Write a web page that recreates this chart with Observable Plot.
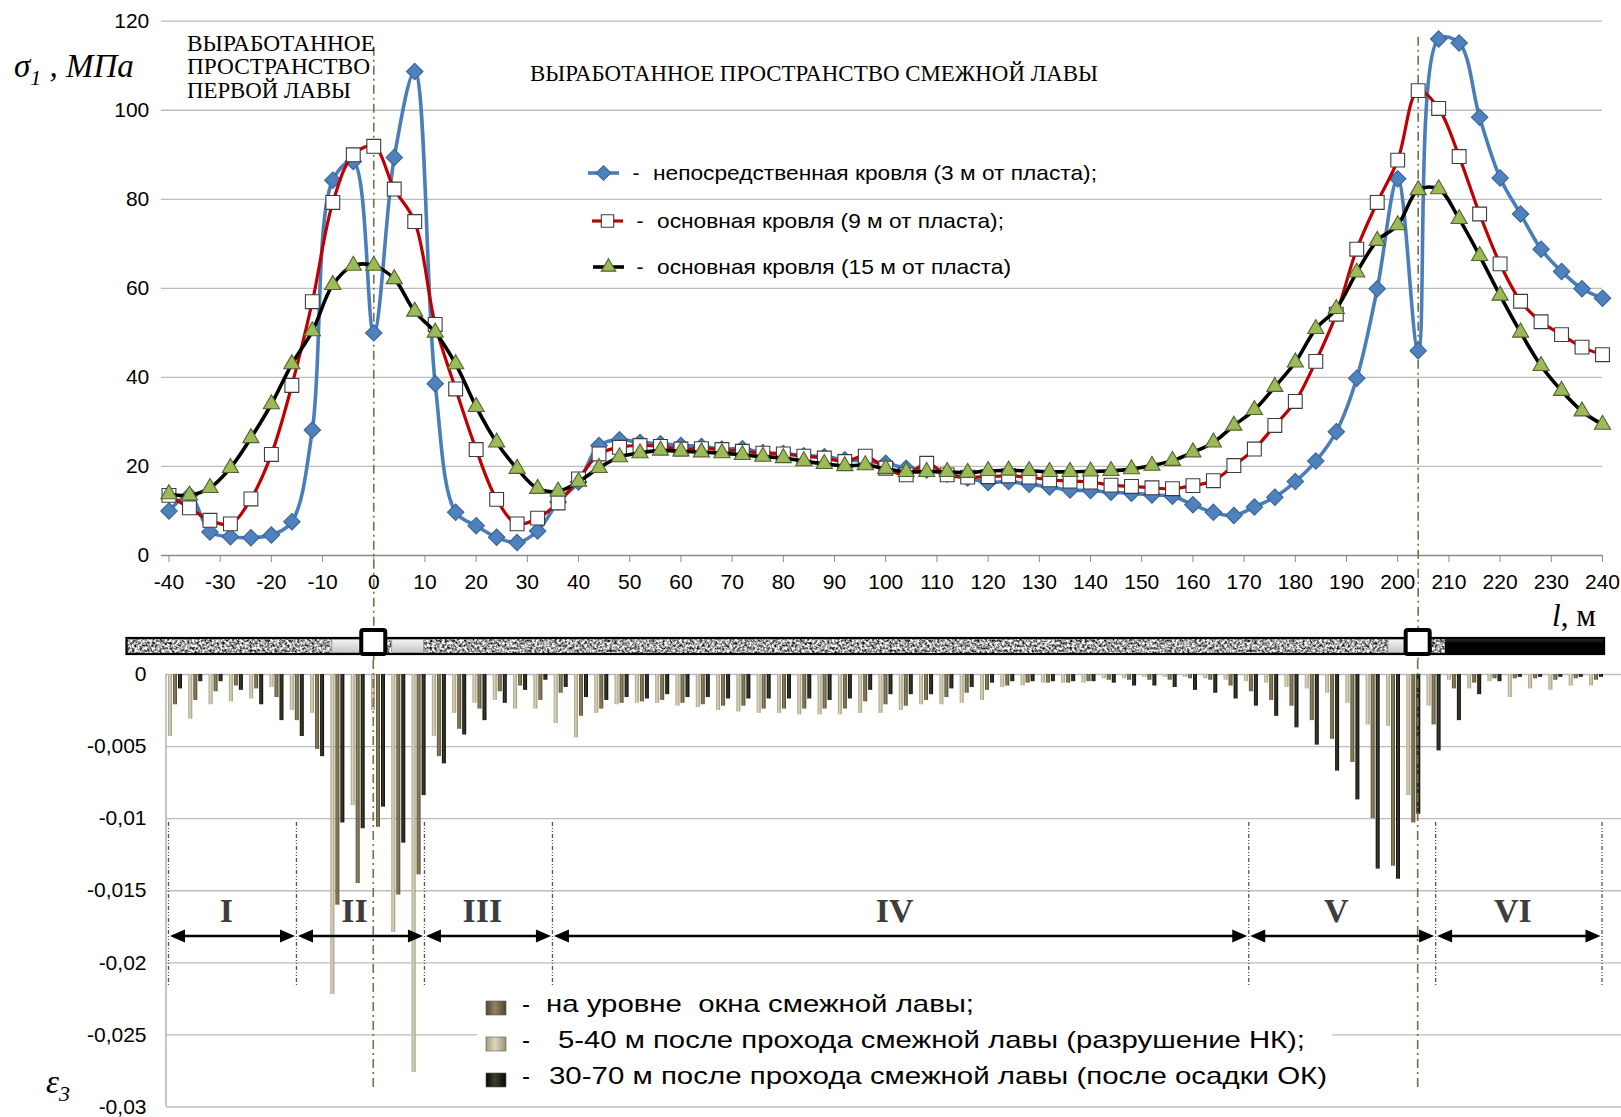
<!DOCTYPE html>
<html lang="ru">
<head>
<meta charset="utf-8">
<script src="https://cdn.jsdelivr.net/npm/d3@7"></script>
<script src="https://cdn.jsdelivr.net/npm/@observablehq/plot@0.6"></script>
<style>
  html, body { margin: 0; padding: 0; background: #fff; }
  #root { position: relative; width: 1621px; height: 1117px; overflow: hidden; background: #fff; }
  #topChart, #bottomChart { position: absolute; left: 0; }
  #topChart { top: 0; }
  #bottomChart { top: 660px; }
  svg { overflow: visible; }
</style>
</head>
<body>
<svg width="0" height="0" style="position:absolute">
  <defs>
    <linearGradient id="gNK" x1="0" x2="1" y1="0" y2="0">
      <stop offset="0" stop-color="#a39d80"/>
      <stop offset="0.45" stop-color="#dcd7bf"/>
      <stop offset="1" stop-color="#9a9477"/>
    </linearGradient>
    <linearGradient id="gWin" x1="0" x2="1" y1="0" y2="0">
      <stop offset="0" stop-color="#524a2f"/>
      <stop offset="0.45" stop-color="#8e8464"/>
      <stop offset="1" stop-color="#4e472d"/>
    </linearGradient>
    <linearGradient id="gOK" x1="0" x2="1" y1="0" y2="0">
      <stop offset="0" stop-color="#0a0a05"/>
      <stop offset="0.45" stop-color="#3d3c2e"/>
      <stop offset="1" stop-color="#080804"/>
    </linearGradient>
    <linearGradient id="gCoal" x1="0" x2="0" y1="0" y2="1">
      <stop offset="0" stop-color="#444"/>
      <stop offset="0.35" stop-color="#000"/>
      <stop offset="1" stop-color="#000"/>
    </linearGradient>
    <linearGradient id="gPillar" x1="0" x2="0" y1="0" y2="1">
      <stop offset="0" stop-color="#f2f2f2"/>
      <stop offset="1" stop-color="#c8c8c8"/>
    </linearGradient>
    <filter id="granite" x="0" y="0" width="1" height="1" color-interpolation-filters="sRGB">
      <feTurbulence type="fractalNoise" baseFrequency="0.4" numOctaves="3" seed="7" result="noise"/>
      <feColorMatrix in="noise" type="matrix" values="2.0 0 0 0 -0.36  2.0 0 0 0 -0.36  2.0 0 0 0 -0.36  0 0 0 0 1" result="gray"/>
      <feComposite in="gray" in2="SourceGraphic" operator="in"/>
    </filter>
  </defs>
</svg>
<div id="root">
  <div id="topChart"></div>
  <div id="bottomChart"></div>
</div>
<script>
// ---------------- DATA ----------------
const distances = [-40,-36,-32,-28,-24,-20,-16,-12,-8,-4,0,4,8,12,16,20,24,28,32,36,40,
  44,48,52,56,60,64,68,72,76,80,84,88,92,96,100,104,108,112,116,120,
  124,128,132,136,140,144,148,152,156,160,164,168,172,176,180,184,188,192,196,200,
  204,208,212,216,220,224,228,232,236,240];

// σ1, MPa
const roof3 = [10,13.5,5.3,4.2,4.0,4.6,7.6,28.2,84.3,88.5,50,89.4,108.7,38.6,9.7,6.7,4.1,2.9,5.5,12,16.5,
  24.7,26,25.4,25.1,24.7,24.5,23.9,24,23.1,22.9,22.4,22.2,21.5,21.2,20.7,19.6,19.2,18.3,17.4,16.4,
  16.6,16,15.4,14.7,14.6,14.2,14,13.6,13.3,11.4,9.7,9,10.9,13.1,16.6,21.2,27.8,39.8,59.9,84.6,
  46,116,115.1,98.4,84.8,76.7,68.8,63.8,59.9,57.8];
const roof9 = [13.5,10.7,7.9,7.1,12.7,22.7,38.2,57.0,79.3,90,91.9,82.3,75,51.9,37.4,23.8,12.6,7.1,8.4,11.8,17.2,
  22.8,24.3,24.7,24.5,23.9,24.0,23.8,23.4,23.0,22.8,22.3,21.9,21.1,22.3,19.6,18.1,20.7,18.1,17.6,17.7,
  17.9,17.6,17.0,16.7,16.5,15.8,15.5,15.2,15.0,15.7,16.8,20.2,23.9,29.2,34.6,43.6,54.2,68.8,79.3,88.8,
  104.4,100.4,89.6,76.7,65.5,57.1,52.5,49.6,46.8,45.1];
const roof15 = [13.8,13.5,15.2,19.7,26.4,34.0,43.0,50.4,60.8,65.1,65.1,62.1,54.8,50.1,43.0,33.4,25.4,19.5,15.0,14.4,16.6,
  19.7,22.1,23.0,23.6,23.4,23.2,23.0,22.6,22.2,21.9,21.2,20.6,20.1,20.3,19.5,18.8,18.8,18.8,18.6,19.0,
  19.1,19.0,18.8,18.8,18.9,19.0,19.4,20.2,21.3,23.2,25.4,29.2,32.7,37.9,43.4,50.9,55.4,63.6,70.7,74.2,
  82.1,82.3,75.6,67.3,58.4,50.1,42.6,37.0,32.4,29.4];

// ε3
const strainWindow = [-0.0021,-0.0018,-0.0012,-0.0008,-0.0010,-0.0016,-0.0032,-0.0052,-0.0160,-0.0145,-0.0106,-0.0153,-0.0139,-0.0057,-0.0038,-0.0024,-0.0012,-0.0008,-0.0018,-0.0013,-0.0029,
  -0.0024,-0.0020,-0.0019,-0.0018,-0.0020,-0.0021,-0.0022,-0.0022,-0.0024,-0.0024,-0.0024,-0.0024,-0.0024,-0.0019,-0.0021,-0.0022,-0.0018,-0.0016,-0.0013,-0.0011,
  -0.0008,-0.0006,-0.0006,-0.0006,-0.0005,-0.0004,-0.0004,-0.0004,-0.0004,-0.0003,-0.0004,-0.0008,-0.0012,-0.0018,-0.0022,-0.0032,-0.0045,-0.0061,-0.0100,-0.0133,
  -0.0103,-0.0035,-0.0010,-0.0006,-0.0003,-0.0003,-0.0003,-0.0004,-0.0003,-0.0004];
const strainNK = [-0.0043,-0.0031,-0.0021,-0.0019,-0.0017,-0.0009,-0.0025,-0.0027,-0.0222,-0.0091,-0.0025,-0.0179,-0.0276,-0.0043,-0.0027,-0.0020,-0.0018,-0.0024,-0.0024,-0.0034,-0.0044,
  -0.0027,-0.0021,-0.0020,-0.0020,-0.0022,-0.0023,-0.0025,-0.0026,-0.0027,-0.0027,-0.0028,-0.0028,-0.0028,-0.0027,-0.0027,-0.0025,-0.0021,-0.0021,-0.0020,-0.0018,
  -0.0009,-0.0008,-0.0006,-0.0006,-0.0006,-0.0003,-0.0003,-0.0002,-0.0002,-0.0002,-0.0003,-0.0004,-0.0005,-0.0006,-0.0009,-0.0010,-0.0013,-0.0020,-0.0035,-0.0036,
  -0.0084,-0.0022,-0.0004,-0.0010,-0.0005,-0.0016,-0.0010,-0.0011,-0.0008,-0.0008];
const strainOK = [-0.0010,-0.0005,-0.0005,-0.0011,-0.0021,-0.0032,-0.0043,-0.0057,-0.0103,-0.0107,-0.0092,-0.0117,-0.0084,-0.0062,-0.0042,-0.0032,-0.0020,-0.0011,-0.0004,-0.0009,-0.0016,
  -0.0018,-0.0016,-0.0017,-0.0014,-0.0016,-0.0016,-0.0017,-0.0017,-0.0017,-0.0017,-0.0017,-0.0018,-0.0017,-0.0011,-0.0014,-0.0014,-0.0014,-0.0010,-0.0009,-0.0006,
  -0.0005,-0.0005,-0.0005,-0.0005,-0.0005,-0.0006,-0.0008,-0.0008,-0.0009,-0.0011,-0.0013,-0.0017,-0.0022,-0.0029,-0.0037,-0.0049,-0.0067,-0.0087,-0.0135,-0.0142,
  -0.0097,-0.0053,-0.0032,-0.0014,-0.0005,-0.0002,-0.0002,-0.0002,-0.0002,-0.0002];

const xTicksTop = [-40,-30,-20,-10,0,10,20,30,40,50,60,70,80,90,100,110,120,130,140,150,160,170,180,190,200,210,220,230,240];
const yTicksTop = [0,20,40,60,80,100,120];
const yTicksBottom = [0,-0.005,-0.01,-0.015,-0.02,-0.025,-0.03];
const yTickLabelsBottom = ["0","-0,005","-0,01","-0,015","-0,02","-0,025","-0,03"];

const topLegendLabels = ["непосредственная кровля (3 м от пласта);","основная кровля (9 м от пласта);","основная кровля (15 м от пласта)"];
const bottomLegendLabels = ["на уровне  окна смежной лавы;","5-40 м после прохода смежной лавы (разрушение НК);","30-70 м после прохода смежной лавы (после осадки ОК)"];
const firstGoafLines = ["ВЫРАБОТАННОЕ","ПРОСТРАНСТВО","ПЕРВОЙ ЛАВЫ"];
const adjacentGoafLabel = "ВЫРАБОТАННОЕ ПРОСТРАНСТВО СМЕЖНОЙ ЛАВЫ";

const faceLines = [0, 204];
const zoneNames = ["I","II","III","IV","V","VI"];
const zoneBounds = [-40,-15,10,35,171,207.5,240];
// seam strip segments (m)
const seamStart = -48.2, seamCoalStart = 209.3, seamEnd = 240.4;
const pillars = [[-8.1,-2.3],[3.6,9.8],[198.2,201.3]];

// ---------------- STYLE ----------------
const W = 1621;
const sans = "'Liberation Sans', Arial, sans-serif";
const serif = "'Liberation Serif', 'Times New Roman', serif";

const topSeries = [
  {values: roof3, stroke: "#4a7ebb", width: 3.6, symbol: "diamond2", symFn: d3.symbolDiamond2, r: 7.4, fill: "#4f81bd", mstroke: "#38649a"},
  {values: roof9, stroke: "#c00000", width: 3.2, symbol: "square", symFn: d3.symbolSquare, r: 7.8, fill: "#ffffff", mstroke: "#3c3c3c"},
  {values: roof15, stroke: "#000000", width: 3.6, symbol: "triangle", symFn: d3.symbolTriangle, r: 6.0, fill: "#9bbb59", mstroke: "#55622f"}
];

// ---------------- TOP CHART ----------------
const topChart = Plot.plot({
  width: W, height: 660,
  marginLeft: 160.8, marginRight: 19, marginTop: 20.7, marginBottom: 105,
  style: {fontFamily: sans, fontSize: "21px", color: "#000", background: "transparent", overflow: "visible"},
  x: {domain: [-41.5, 240]},
  y: {domain: [0, 120]},
  marks: [
    Plot.gridY(yTicksTop.filter(d => d !== 0), {stroke: "#bdbdbd", strokeOpacity: 1, strokeWidth: 1.3}),
    Plot.axisY(yTicksTop, {tickSize: 0, tickPadding: 12, fontSize: 21, label: null, tickFormat: d => String(d)}),
    Plot.axisX(xTicksTop, {tickSize: 7, tickPadding: 12, fontSize: 21, label: null, stroke: "#8a8a8a", tickFormat: d => String(d)}),
    Plot.ruleY([0], {stroke: "#8a8a8a", strokeWidth: 1.3}),
    Plot.ruleX([faceLines[0]], {stroke: "#7a6e45", strokeWidth: 1.6, strokeDasharray: "9,4,2,4", insetTop: 26, insetBottom: -105}),
    Plot.ruleX([faceLines[1]], {stroke: "#7a6e45", strokeWidth: 1.6, strokeDasharray: "9,4,2,4", insetTop: 16, insetBottom: -105}),
    ...topSeries.flatMap(s => {
      const data = distances.map((l, i) => ({l, v: s.values[i]}));
      return [
        Plot.line(data, {x: "l", y: "v", curve: "catmull-rom", stroke: s.stroke, strokeWidth: s.width}),
        Plot.dot(data, {x: "l", y: "v", symbol: s.symbol, r: s.r, fill: s.fill, stroke: s.mstroke, strokeWidth: 1.1})
      ];
    })
  ]
});
document.getElementById("topChart").appendChild(topChart);
const sx = topChart.scale("x");
const X = v => sx.apply(v);
const tsvg = d3.select(topChart);

function addText(sel, txt, x, y, opts) {
  const t = sel.append("text").attr("x", x).attr("y", y).text(txt)
    .attr("font-family", opts.family || sans).attr("font-size", opts.size)
    .attr("fill", opts.fill || "#000")
    .attr("text-anchor", opts.anchor || "start");
  if (opts.weight) t.attr("font-weight", opts.weight);
  if (opts.style) t.attr("font-style", opts.style);
  if (opts.length) t.attr("textLength", opts.length).attr("lengthAdjust", "spacingAndGlyphs");
  return t;
}

// annotations
const ann = tsvg.append("g");
const annBase = [50.5, 74, 97.5], annLen = [188, 183, 164];
firstGoafLines.forEach((s, i) => addText(ann, s, 187, annBase[i], {family: serif, size: 22.5, length: annLen[i]}));
addText(ann, adjacentGoafLabel, 530, 80.5, {family: serif, size: 22.5, length: 568});

// y-axis title
const yt = tsvg.append("text").attr("x", 14).attr("y", 77).attr("font-family", serif).attr("font-size", 33)
  .attr("font-style", "italic").attr("text-anchor", "start");
yt.append("tspan").text("σ");
yt.append("tspan").attr("font-size", 22).attr("dy", 8).text("1");
yt.append("tspan").attr("dy", -8).text(" , МПа");

// x title
const xt = tsvg.append("text").attr("x", 1552).attr("y", 626).attr("font-family", serif).attr("font-size", 31)
  .attr("text-anchor", "start");
xt.append("tspan").attr("font-style", "italic").text("l");
xt.append("tspan").text(", м");

// top legend
const lg = tsvg.append("g");
const lgY = [173, 221, 267], lgX0 = [588, 592, 593], lgDash = [636, 640, 640], lgText = [653, 657, 657], lgLen = [444, 347, 354];
topSeries.forEach((s, i) => {
  lg.append("line").attr("x1", lgX0[i]).attr("x2", lgX0[i] + 31).attr("y1", lgY[i]).attr("y2", lgY[i])
    .attr("stroke", s.stroke).attr("stroke-width", s.width);
  lg.append("path").attr("d", d3.symbol(s.symFn, Math.PI * s.r * s.r * 0.8)())
    .attr("transform", `translate(${lgX0[i] + 15.5},${lgY[i]})`)
    .attr("fill", s.fill).attr("stroke", s.mstroke).attr("stroke-width", 1.1);
  addText(lg, "-", lgDash[i], lgY[i] + 7, {size: 21, anchor: "middle"});
  addText(lg, topLegendLabels[i], lgText[i], lgY[i] + 7, {size: 21, length: lgLen[i]});
});

// seam strip
const seam = tsvg.append("g");
seam.append("rect").attr("x", X(seamStart)).attr("y", 638).attr("width", X(seamCoalStart) - X(seamStart)).attr("height", 16)
  .attr("fill", "#999").attr("filter", "url(#granite)");
seam.append("rect").attr("x", X(seamCoalStart)).attr("y", 637).attr("width", X(seamEnd) - X(seamCoalStart)).attr("height", 18)
  .attr("fill", "url(#gCoal)");
seam.append("rect").attr("x", X(seamStart)).attr("y", 638).attr("width", X(seamEnd) - X(seamStart)).attr("height", 16)
  .attr("fill", "none").attr("stroke", "#000").attr("stroke-width", 2.2);
pillars.forEach(([a, b]) => {
  seam.append("rect").attr("x", X(a)).attr("y", 639.5).attr("width", X(b) - X(a)).attr("height", 13)
    .attr("fill", "url(#gPillar)").attr("stroke", "#9a9a9a").attr("stroke-width", 0.8);
});
faceLines.forEach(f => {
  seam.append("rect").attr("x", X(f) - 12).attr("y", 630).attr("width", 24).attr("height", 24).attr("rx", 2)
    .attr("fill", "#fff").attr("stroke", "#000").attr("stroke-width", 4);
});

// ---------------- BOTTOM CHART ----------------
const bDomain = [-41.77, 244.93];
const bLeft = 166;
const ppu = (W - bLeft) / (bDomain[1] - bDomain[0]);
const barSeries = [
  {values: strainNK, fill: "url(#gNK)", off: -5},
  {values: strainWindow, fill: "url(#gWin)", off: 0},
  {values: strainOK, fill: "url(#gOK)", off: 5}
];
const bottomChart = Plot.plot({
  width: W, height: 457,
  marginLeft: bLeft, marginRight: 0, marginTop: 14, marginBottom: 10.5,
  style: {fontFamily: sans, fontSize: "21px", color: "#000", background: "transparent", overflow: "visible"},
  x: {domain: bDomain, axis: null},
  y: {domain: [-0.03, 0]},
  marks: [
    Plot.gridY(yTicksBottom, {stroke: "#bdbdbd", strokeOpacity: 1, strokeWidth: 1.3}),
    Plot.axisY(yTicksBottom, {tickSize: 0, tickPadding: 20, fontSize: 21, label: null,
      tickFormat: d => yTickLabelsBottom[yTicksBottom.indexOf(d)]}),
    ...barSeries.map(s => Plot.rect(distances.map((l, i) => ({l, v: s.values[i]})), {
      x1: d => d.l + (s.off - 2) / ppu, x2: d => d.l + (s.off + 2) / ppu,
      y1: 0, y2: "v", fill: s.fill
    }))
  ]
});
document.getElementById("bottomChart").appendChild(bottomChart);
const by = bottomChart.scale("y");
const bsvg = d3.select(bottomChart);
const off = 660;

// left axis line
bsvg.append("line").attr("x1", bLeft).attr("x2", bLeft).attr("y1", by.apply(0)).attr("y2", by.apply(-0.03))
  .attr("stroke", "#a6a6a6").attr("stroke-width", 1.3);

// face lines (continuation)
faceLines.forEach(f => {
  bsvg.append("line").attr("x1", X(f)).attr("x2", X(f)).attr("y1", 0).attr("y2", 1088 - off)
    .attr("stroke", "#7a6e45").attr("stroke-width", 1.6).attr("stroke-dasharray", "9,4,2,4");
});

// zones
const zg = bsvg.append("g");
zoneBounds.forEach(b => {
  zg.append("line").attr("x1", X(b)).attr("x2", X(b)).attr("y1", 822 - off).attr("y2", 987 - off)
    .attr("stroke", "#555").attr("stroke-width", 1.3).attr("stroke-dasharray", "4,2,1,2,1,2");
});
const arrowY = 936 - off;
zoneNames.forEach((name, i) => {
  const a = X(zoneBounds[i]) + 1.5, b = X(zoneBounds[i + 1]) - 1.5;
  zg.append("line").attr("x1", a + 8).attr("x2", b - 8).attr("y1", arrowY).attr("y2", arrowY)
    .attr("stroke", "#000").attr("stroke-width", 2.6);
  zg.append("path").attr("d", `M${a},${arrowY}L${a + 15},${arrowY - 6.5}L${a + 15},${arrowY + 6.5}Z`).attr("fill", "#000");
  zg.append("path").attr("d", `M${b},${arrowY}L${b - 15},${arrowY - 6.5}L${b - 15},${arrowY + 6.5}Z`).attr("fill", "#000");
  addText(zg, name, (a + b) / 2 - 6, 922 - off, {family: serif, size: 34, weight: "bold", anchor: "middle", fill: "#3d3d3d"});
});

// epsilon title
const et = bsvg.append("text").attr("x", 46).attr("y", 1093 - off).attr("font-family", serif).attr("font-size", 33)
  .attr("font-style", "italic").attr("text-anchor", "start");
et.append("tspan").text("ε");
et.append("tspan").attr("font-size", 22).attr("dy", 8).text("3");

// bottom legend
const bl = bsvg.append("g");
bl.append("rect").attr("x", 477).attr("y", 990 - off).attr("width", 855).attr("height", 108).attr("fill", "#fff");
const blFill = ["url(#gWin)", "url(#gNK)", "url(#gOK)"];
const blY = [1008, 1044, 1080], blText = [546, 558, 549], blLen = [428, 747, 778];
bottomLegendLabels.forEach((t, i) => {
  bl.append("rect").attr("x", 486).attr("y", blY[i] - 7 - off).attr("width", 20).attr("height", 14).attr("fill", blFill[i])
    .attr("stroke", "#555").attr("stroke-width", 0.6);
  addText(bl, "-", 526, blY[i] + 4 - off, {size: 24, anchor: "middle"});
  addText(bl, t, blText[i], blY[i] + 4 - off, {size: 24, length: blLen[i]});
});
</script>
</body>
</html>
